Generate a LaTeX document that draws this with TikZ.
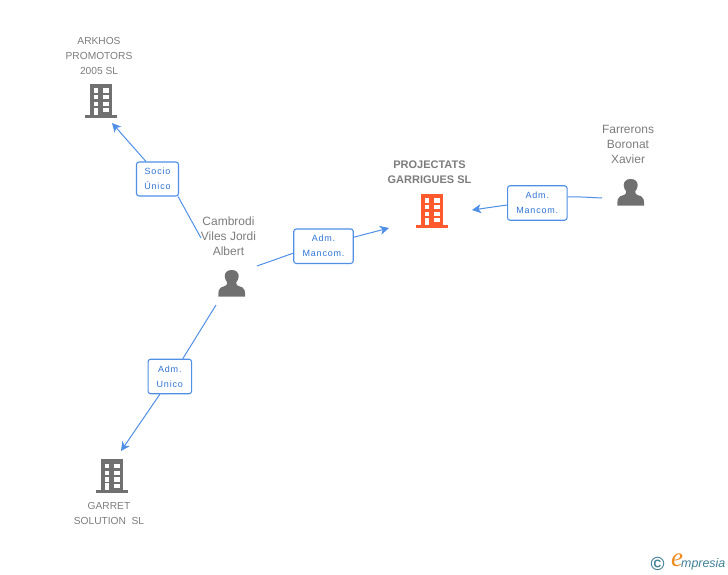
\documentclass[tikz,border=0pt]{standalone}
\usepackage{fontspec}
\setmainfont{Liberation Sans}
\newfontfamily\lblfont[LetterSpace=9]{Liberation Sans}
\newfontfamily\logofont{Liberation Serif}
\usetikzlibrary{arrows.meta,positioning,calc}
\definecolor{gricon}{HTML}{707070}
\definecolor{grtext}{HTML}{7C7C7C}
\definecolor{orangeicon}{HTML}{FF5A2E}
\definecolor{linkblue}{HTML}{4F8FE6}
\definecolor{lbltext}{HTML}{2F74D6}
\definecolor{logoteal}{HTML}{3F7F96}
\definecolor{logoorange}{HTML}{F08A1D}
\tikzset{
  x=1pt,y=-1pt,
  linkline/.style={draw=linkblue,line width=1pt},
  linkarrow/.style={linkline,-{Stealth[length=9pt,width=9pt,inset=2.5pt]}},
  relbox/.style={draw=linkblue,line width=1.1pt,rounded corners=2.5pt,top color=white,bottom color=white,middle color=white,
     align=center,inner sep=0pt,font=\fontsize{9}{15}\lblfont,text=lbltext,anchor=center},
  nametext/.style={align=center,inner sep=0pt,text=grtext,font=\fontsize{12}{15}\selectfont},
  cotext/.style={align=center,inner sep=0pt,text=grtext,font=\fontsize{10.2}{15}\selectfont},
  building/.pic={
    \fill[pic actions] (-11,-34) rectangle (11.3,-3);
    \fill[pic actions] (-16,-3) rectangle (16,0);
    \foreach \yt/\yb in {-29.4/-25,-22.7/-18.4,-16/-11.7}{
      \fill[white] (-7.3,\yt) rectangle (-2.7,\yb);
      \fill[white] (2.3,\yt) rectangle (7.7,\yb);
    }
    \fill[white] (2.3,-9.4) rectangle (7.7,-5.4);
    \fill[white] (-7.3,-10) rectangle (-2.7,-3);
  },
  person/.pic={
    \fill[pic actions] (0,-26.7) .. controls (-4.6,-26.7) and (-7,-24) .. (-7,-20.5)
      .. controls (-7,-18) and (-5.8,-15.8) .. (-4.6,-14.4)
      .. controls (-4.4,-12.5) and (-5,-11.6) .. (-6.5,-10.8)
      .. controls (-9.5,-9.8) and (-12.2,-9.4) .. (-12.9,-6.5)
      .. controls (-13.3,-4.5) and (-13.4,-2) .. (-13.4,0)
      -- (13.4,0)
      .. controls (13.4,-2) and (13.3,-4.5) .. (12.9,-6.5)
      .. controls (12.2,-9.4) and (9.5,-9.8) .. (6.5,-10.8)
      .. controls (5,-11.6) and (4.4,-12.5) .. (4.6,-14.4)
      .. controls (5.8,-15.8) and (7,-18) .. (7,-20.5)
      .. controls (7,-24) and (4.6,-26.7) .. (0,-26.7) -- cycle;
  }
}
\begin{document}
\begin{tikzpicture}
\useasboundingbox (0,0) rectangle (728,575);
% icons
\pic[fill=gricon] at (101,117.7) {building};
\pic[fill=orangeicon] at (432,227.7) {building};
\pic[fill=gricon] at (111.8,493.3) {building};
\pic[fill=gricon] at (231.7,296.7) {person};
\pic[fill=gricon] at (630.7,205.7) {person};
% labels
\node[cotext] (arkhos) at (99,55.5) {ARKHOS\\PROMOTORS\\2005 SL};
\node[inner sep=0pt,align=center,text=grtext,font=\fontsize{11}{15}\bfseries] (projectats) at (429.5,172.5) {PROJECTATS\\GARRIGUES SL};
\node[cotext] (garret) at (109,513.5) {GARRET\\SOLUTION\ \ SL};
\node[nametext] (cambrodi) at (228.5,236) {Cambrodi\\Viles Jordi\\Albert};
\node[nametext] (farrerons) at (628,144.5) {Farrerons\\Boronat\\Xavier};
% relation boxes
\node[relbox,minimum width=42pt,minimum height=34pt] (socio) at (157.5,179) {Socio\\Único};
\node[relbox,minimum width=59.5pt,minimum height=34.5pt] (mancomA) at (323.5,246.2) {Adm.\\Mancom.};
\node[relbox,minimum width=59.5pt,minimum height=34.5pt] (mancomB) at (537.3,203) {Adm.\\Mancom.};
\node[relbox,minimum width=43.5pt,minimum height=34.5pt] (unico) at (169.8,376.5) {Adm.\\Unico};
% connector ends
\coordinate (tipArkhos) at (112,123);
\coordinate (tipProj) at (389,228);
\coordinate (tipProjB) at (472,210);
\coordinate (tipGarret) at (121,451);
\coordinate (outSocio) at (201,238);
\coordinate (outMancomA) at (257,266);
\coordinate (outMancomB) at (602,198);
\coordinate (outUnico) at (216,305);
% connectors
\draw[linkline] (outSocio) -- ($(socio.south east)+(-1,0)$);
\draw[linkarrow] ($(socio.north west)+(10,0)$) -- (tipArkhos);
\draw[linkline] (outMancomA) -- ($(mancomA.west)+(0,7)$);
\draw[linkarrow] ($(mancomA.east)+(0,-9)$) -- (tipProj);
\draw[linkline] (outMancomB) .. controls (590,197.5) and (578,196.5) .. ($(mancomB.east)+(0,-6)$);
\draw[linkarrow] ($(mancomB.west)+(0,2)$) -- (tipProjB);
\draw[linkline] (outUnico) -- ($(unico.north)+(13,0)$);
\draw[linkarrow] ($(unico.south)+(-10,0)$) -- (tipGarret);
% logo
\node[inner sep=0pt,text=logoteal,font=\fontsize{19}{19}\bfseries] (copyr) at (657.5,564) {©};
\node[inner sep=0pt,text=logoorange,font=\fontsize{27}{27}\logofont\itshape] (logoe) at (677,560) {e};
\node[inner sep=0pt,text=logoteal,anchor=west,font=\fontsize{12.4}{12.4}\selectfont\itshape] (logotxt) at (681,564) {mpresia};
\end{tikzpicture}
\end{document}
